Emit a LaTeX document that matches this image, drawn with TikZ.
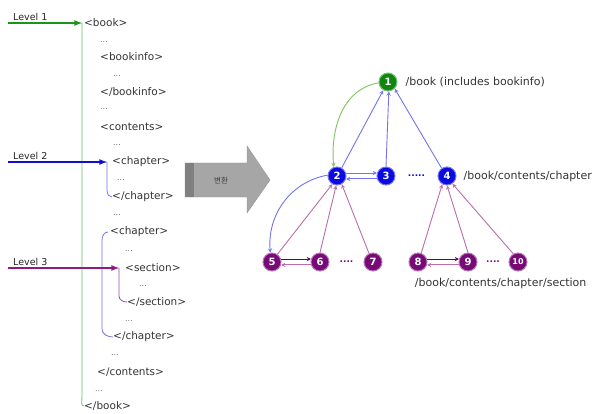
\documentclass[tikz,border=0pt]{standalone}
\usepackage{fontspec}
\setmainfont{DejaVu Sans}
\newfontfamily\korfont{Noto Sans CJK KR}
\usepackage{tikz}
\usetikzlibrary{positioning,calc}

\definecolor{lvgreen}{RGB}{25,150,25}
\definecolor{lvblue}{RGB}{15,15,205}
\definecolor{lvpurple}{RGB}{145,25,135}
\definecolor{brgreen}{RGB}{100,190,100}
\definecolor{brblue}{RGB}{115,115,228}
\definecolor{brpurple}{RGB}{150,70,175}
\definecolor{ndgreen}{RGB}{15,135,15}
\definecolor{ndblue}{RGB}{10,10,225}
\definecolor{ndpurple}{RGB}{120,10,120}
\definecolor{egblue}{RGB}{115,115,235}
\definecolor{egpurple}{RGB}{185,110,170}
\definecolor{eggreen}{RGB}{130,195,95}

\begin{document}
\begin{tikzpicture}[x=1pt,y=-1pt]
 \useasboundingbox (0,0) rectangle (599,414);

\tikzstyle{tag}=[anchor=west,inner sep=0pt,font=\fontsize{10.5}{12}\selectfont,text=black!80]
\tikzstyle{dots}=[anchor=west,inner sep=0pt,font=\fontsize{8}{9}\selectfont,text=black!55]
\tikzstyle{lvl}=[inner sep=0pt,font=\fontsize{9.5}{11}\selectfont,text=black!85]
\tikzstyle{lvline}=[line width=1.6pt,-latex]
\tikzstyle{bracket}=[line width=0.8pt]
\tikzstyle{tnode}=[circle,inner sep=0pt,minimum size=18pt,line width=1pt,text=white,font=\bfseries\fontsize{10}{10}\selectfont]
\tikzstyle{gnode}=[tnode,fill=ndgreen,draw=ndgreen!55!white]
\tikzstyle{bnode}=[tnode,fill=ndblue,draw=ndblue!55!white]
\tikzstyle{pnode}=[tnode,fill=ndpurple,draw=ndpurple!55!white]
\tikzstyle{bedge}=[egblue,line width=0.9pt,-stealth]
\tikzstyle{pedge}=[egpurple,line width=0.9pt,-stealth]
\tikzstyle{tlabel}=[anchor=west,inner sep=0pt,font=\fontsize{11}{13}\selectfont,text=black!80]

   %draw xml tags
    \node (obook) [tag] at (84,23) {<book>};
    \node (d1) [dots] at (100,42) {...};
    \node (oinfo) [tag] at (100,57) {<bookinfo>};
    \node (d2) [dots] at (113,76) {...};
    \node (cinfo) [tag] at (100,92) {</bookinfo>};
    \node (d3) [dots] at (100,109) {...};
    \node (ocont) [tag] at (100,127) {<contents>};
    \node (d4) [dots] at (113,145) {...};
    \node (ochap1) [tag] at (112,162) {<chapter>};
    \node (d5) [dots] at (117,180) {...};
    \node (cchap1) [tag] at (112,197) {</chapter>};
    \node (d6) [dots] at (113,215) {...};
    \node (ochap2) [tag] at (110,232) {<chapter>};
    \node (d7) [dots] at (125,251) {...};
    \node (osec) [tag] at (125,268) {<section>};
    \node (d8) [dots] at (139,286) {...};
    \node (csec) [tag] at (127,302) {</section>};
    \node (d9) [dots] at (125,321) {...};
    \node (cchap2) [tag] at (113,337) {</chapter>};
    \node (d10) [dots] at (111,355) {...};
    \node (ccont) [tag] at (97,372) {</contents>};
    \node (d11) [dots] at (95,391) {...};
    \node (cbook) [tag] at (84,406) {</book>};

   %draw brackets
    \coordinate (l1s) at (8,23);
    \coordinate (l1e) at (82,23);
    \coordinate (g1) at (82,397);
    \draw [bracket,brgreen] (l1e) -- (g1) to[out=-90,in=180] (cbook.west);

    \coordinate (l2s) at (8,162);
    \coordinate (l2e) at (107,162);
    \coordinate (b1) at (107,191);
    \draw [bracket,brblue] (l2e) -- (b1) to[out=-90,in=180] (cchap1.west);

    \coordinate (b2) at (102,240);
    \coordinate (b3) at (102,329);
    \draw [bracket,brblue] ($(ochap2.west)+(-2pt,0pt)$) to[out=180,in=90] (b2) -- (b3) to[out=-90,in=180] (cchap2.west);

    \coordinate (l3s) at (8,268);
    \coordinate (l3e) at (119,268);
    \coordinate (s1) at (119,296);
    \draw [bracket,brpurple] (l3e) -- (s1) to[out=-90,in=180] (csec.west);

   %draw levels
    \draw [lvline,lvgreen] (l1s) -- (l1e);
    \node (lev1) [lvl,above right=2pt and 5pt of l1s] {Level 1};
    \draw [lvline,lvblue] (l2s) -- (l2e);
    \node (lev2) [lvl,above right=2pt and 5pt of l2s] {Level 2};
    \draw [lvline,lvpurple] (l3s) -- (l3e);
    \node (lev3) [lvl,above right=2pt and 5pt of l3s] {Level 3};

   %draw conversion arrow
    \fill [black!35,draw=black!42] (185,163) -- (247,163) -- (247,146) -- (270,180) -- (247,213) -- (247,197) -- (185,197) -- cycle;
    \fill [black!50] (185,163) rectangle (194,197);
    \node (conv) [inner sep=0pt,text=black!75,font=\korfont\fontsize{7.5}{8}\selectfont] at (221,181) {변환};

   %draw tree
    \node (n1) [gnode] at (388,82) {1};
    \node (n2) [bnode] at (337,176) {2};
    \node (n3) [bnode] at (386,176) {3};
    \node (n4) [bnode] at (447,176) {4};
    \node (bdots) [inner sep=0pt,text=ndblue,font=\bfseries\fontsize{9}{9}\selectfont] at ($(n3)!0.5!(n4)$) {.....};

    \node (n5) [pnode] at (272,262) {5};
    \node (n6) [pnode] at (320,262) {6};
    \node (n7) [pnode] at (373,262) {7};
    \node (n8) [pnode] at (418,262) {8};
    \node (n9) [pnode] at (468,262) {9};
    \node (n10) [pnode,font=\bfseries\fontsize{8}{8}\selectfont] at (518,262) {10};
    \node (pdots1) [inner sep=0pt,text=ndpurple,font=\bfseries\fontsize{9}{9}\selectfont] at ($(n6)!0.5!(n7)$) {....};
    \node (pdots2) [inner sep=0pt,text=ndpurple,font=\bfseries\fontsize{9}{9}\selectfont] at ($(n9)!0.5!(n10)$) {....};

    \node (p1) [tlabel,right=8pt of n1] {/book (includes bookinfo)};
    \node (p2) [tlabel,right=7pt of n4] {/book/contents/chapter};
    \node (p3) [tlabel,below right=9pt and -10pt of n8] {/book/contents/chapter/section};

    \draw [eggreen,line width=0.9pt,-stealth] (n1.185) to[out=190,in=95] (n2.110);
    \draw [bedge] (n2.60) -- (n1.-120);
    \draw [bedge] (n3.north) -- (n1.-85);
    \draw [bedge] (n4.125) -- (n1.-45);
    \draw [bedge] (n2.18) -- (n3.162);
    \draw [bedge] (n3.-162) -- (n2.-18);
    \draw [bedge] (n2.175) to[out=190,in=95] (n5.100);

    \draw [pedge] (n5.55) -- (n2.-120);
    \draw [pedge] (n6.north) -- (n2.-95);
    \draw [pedge] (n7.115) -- (n2.-60);
    \draw [pedge] (n8.70) -- (n4.-120);
    \draw [pedge] (n9.north) -- (n4.-90);
    \draw [pedge] (n10.120) -- (n4.-55);

    \draw [ndpurple!70!black,line width=0.9pt,-stealth] (n5.18) -- (n6.162);
    \draw [pedge] (n6.-162) -- (n5.-18);
    \draw [ndpurple!70!black,line width=0.9pt,-stealth] (n8.18) -- (n9.162);
    \draw [pedge] (n9.-162) -- (n8.-18);

\end{tikzpicture}
\end{document}
